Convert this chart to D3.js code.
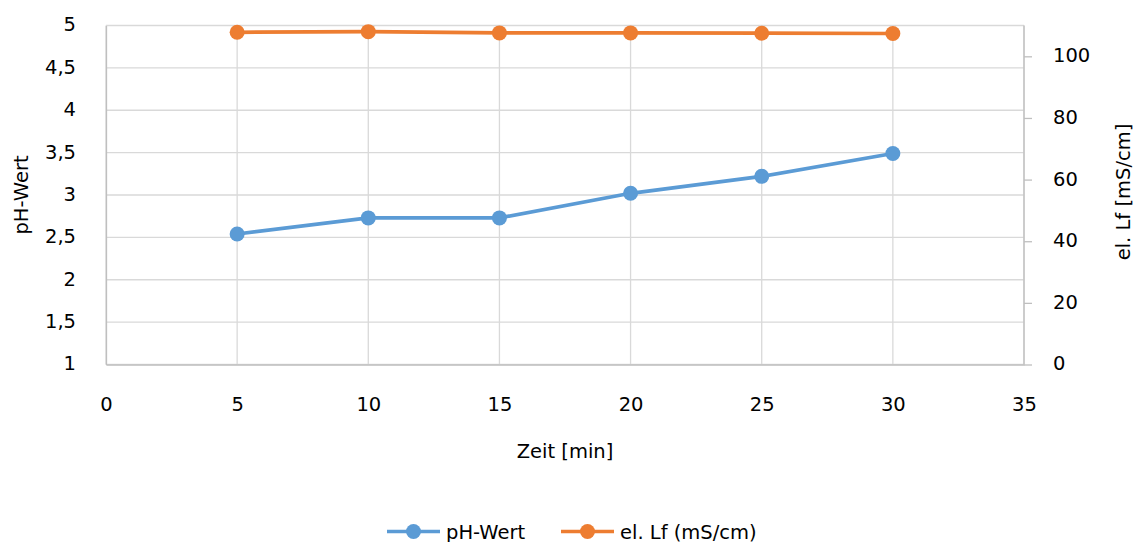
<!DOCTYPE html>
<html>
<head>
<meta charset="utf-8">
<script src="https://cdn.jsdelivr.net/npm/d3@7"></script>
<style>
  html, body { margin: 0; padding: 0; background: #fff; }
  svg text { font-family: "DejaVu Sans", "Noto Sans", sans-serif; fill: #000; }
</style>
</head>
<body>
<svg id="chart" width="1136" height="542"></svg>
<script>
// Measurement time in minutes
const zeit = [5, 10, 15, 20, 25, 30];
// pH value per time step
const phWert = [2.54, 2.73, 2.73, 3.02, 3.22, 3.49];
// electrical conductivity in mS/cm
const leitf = [107.8, 108.0, 107.6, 107.6, 107.5, 107.4];

const xTicks = [0, 5, 10, 15, 20, 25, 30, 35];
const yLeftTicks = [1, 1.5, 2, 2.5, 3, 3.5, 4, 4.5, 5];
const yRightTicks = [0, 20, 40, 60, 80, 100];

const seriesNames = ["pH-Wert", "el. Lf (mS/cm)"];
const colors = ["#5B9BD5", "#ED7D31"];

const FS = 19.5;
const svg = d3.select("#chart");
const m = { left: 106, right: 1024, top: 25.5, bottom: 364.5 };

const x = d3.scaleLinear().domain([0, 35]).range([m.left, m.right]);
const yL = d3.scaleLinear().domain([1, 5]).range([m.bottom, m.top]);
const yR = d3.scaleLinear().domain([0, 110]).range([m.bottom, m.top]);

// gridlines
const grid = svg.append("g");
grid.selectAll("line.h").data(yLeftTicks).join("line")
  .attr("x1", m.left).attr("x2", m.right)
  .attr("y1", d => yL(d)).attr("y2", d => yL(d))
  .attr("stroke", "#d9d9d9").attr("stroke-width", 1.3);
grid.selectAll("line.v").data(xTicks).join("line")
  .attr("x1", d => x(d)).attr("x2", d => x(d))
  .attr("y1", m.top).attr("y2", m.bottom)
  .attr("stroke", "#d9d9d9").attr("stroke-width", 1.3);

// axes (German decimal comma)
const deFmt = d => String(d).replace(".", ",");

const axL = svg.append("g").attr("transform", `translate(${m.left},0)`)
  .call(d3.axisLeft(yL).tickValues(yLeftTicks).tickSize(0).tickPadding(30).tickFormat(deFmt));
axL.select(".domain").attr("stroke", "#bfbfbf").attr("stroke-width", 1.3);
axL.selectAll("text").attr("font-size", FS).attr("dy", "0.28em");

const axR = svg.append("g").attr("transform", `translate(${m.right},0)`)
  .call(d3.axisRight(yR).tickValues(yRightTicks).tickSize(8).tickPadding(21).tickFormat(d => d));
axR.select(".domain").attr("stroke", "#bfbfbf").attr("stroke-width", 1.3).attr("d", `M0,${m.top}V${m.bottom}`);
axR.selectAll(".tick line").attr("stroke", "#bfbfbf").attr("stroke-width", 1.3);
axR.selectAll("text").attr("font-size", FS).attr("dy", "0.28em");

const axB = svg.append("g").attr("transform", `translate(0,${m.bottom})`)
  .call(d3.axisBottom(x).tickValues(xTicks).tickSize(0).tickPadding(33).tickFormat(d => d));
axB.select(".domain").attr("stroke", "#bfbfbf").attr("stroke-width", 1.3);
axB.selectAll("text").attr("font-size", FS);

// axis titles
svg.append("text").attr("x", 565).attr("y", 458).attr("text-anchor", "middle")
  .attr("font-size", FS).text("Zeit [min]");
svg.append("text").attr("transform", "translate(28,195) rotate(-90)")
  .attr("text-anchor", "middle").attr("font-size", FS).text("pH-Wert");
svg.append("text").attr("transform", "translate(1130,192) rotate(-90)")
  .attr("text-anchor", "middle").attr("font-size", FS).text("el. Lf [mS/cm]");

// series
const series = [
  { vals: phWert, y: yL, color: colors[0] },
  { vals: leitf, y: yR, color: colors[1] }
];
series.forEach(s => {
  const pts = zeit.map((t, i) => [x(t), s.y(s.vals[i])]);
  svg.append("path").attr("d", d3.line()(pts))
    .attr("fill", "none").attr("stroke", s.color).attr("stroke-width", 3.7)
    .attr("stroke-linejoin", "round");
  svg.append("g").selectAll("circle").data(pts).join("circle")
    .attr("cx", d => d[0]).attr("cy", d => d[1]).attr("r", 7.5)
    .attr("fill", s.color);
});

// legend
const legend = svg.append("g");
const legItems = [{ x0: 387, tx: 446 }, { x0: 561, tx: 620 }];
legItems.forEach((it, i) => {
  const ly = 531.5;
  legend.append("line").attr("x1", it.x0).attr("x2", it.x0 + 53)
    .attr("y1", ly).attr("y2", ly).attr("stroke", colors[i]).attr("stroke-width", 3.7);
  legend.append("circle").attr("cx", it.x0 + 26.5).attr("cy", ly).attr("r", 7.5).attr("fill", colors[i]);
  legend.append("text").attr("x", it.tx).attr("y", ly + 7).attr("font-size", FS).text(seriesNames[i]);
});
</script>
</body>
</html>
